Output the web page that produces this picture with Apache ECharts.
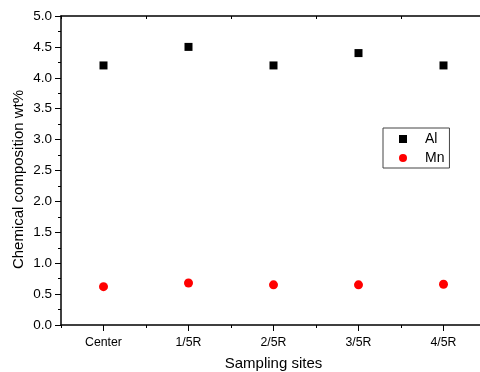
<!DOCTYPE html>
<html><head><meta charset="utf-8">
<script src="https://cdn.jsdelivr.net/npm/echarts@6/dist/echarts.min.js"></script>
<style>html,body{margin:0;padding:0;background:#fff}#c{width:480px;height:372px}</style>
</head><body><div id="c"></div>
<script>
var categories = ['Center', '1/5R', '2/5R', '3/5R', '4/5R'];
var alValues = [4.2, 4.5, 4.2, 4.4, 4.2];
var mnValues = [0.62, 0.68, 0.65, 0.65, 0.66];
var yTicks = ['0.0','0.5','1.0','1.5','2.0','2.5','3.0','3.5','4.0','4.5','5.0'];

var chart = echarts.init(document.getElementById('c'));
var font = 'Liberation Sans, Arial, sans-serif';
var axisLine = {show: true, lineStyle: {color: '#000', width: 1.5}};
chart.setOption({
  animation: false,
  grid: {left: 61, right: -6, top: 16, bottom: 47, containLabel: false, outerBoundsMode: 'none'},
  xAxis: [
    {type: 'category', data: categories, position: 'bottom', boundaryGap: true,
     axisLine: axisLine,
     axisTick: {show: true, alignWithLabel: true, length: 6, inside: false, lineStyle: {color: '#000', width: 1}},
     axisLabel: {color: '#000', fontFamily: font, fontSize: 12.3, margin: 12},
     name: 'Sampling sites', nameLocation: 'middle', nameGap: 31, nameMoveOverlap: false,
     nameTextStyle: {color: '#000', fontFamily: font, fontSize: 15},
     splitLine: {show: false}},
    {type: 'category', data: categories, position: 'bottom', boundaryGap: true,
     axisLine: {show: false},
     axisTick: {show: true, length: 3, lineStyle: {color: '#000', width: 1}},
     axisLabel: {show: false}, splitLine: {show: false}},
    {type: 'category', data: categories, position: 'top', boundaryGap: true,
     axisLine: axisLine,
     axisTick: {show: true, inside: true, length: 3, lineStyle: {color: '#000', width: 1}},
     axisLabel: {show: false}, splitLine: {show: false}}
  ],
  yAxis: {
    type: 'value', min: 0, max: 5, interval: 0.5,
    axisLine: axisLine,
    axisTick: {show: true, length: 6, lineStyle: {color: '#000', width: 1}},
    minorTick: {show: true, splitNumber: 2, length: 3, lineStyle: {color: '#000', width: 1}},
    axisLabel: {color: '#000', fontFamily: font, fontSize: 13.5, margin: 9,
      formatter: function (v) { return yTicks[Math.round(v / 0.5)]; }},
    splitLine: {show: false},
    name: 'Chemical composition wt%', nameLocation: 'middle', nameGap: 35, nameMoveOverlap: false,
    nameTextStyle: {color: '#000', fontFamily: font, fontSize: 15, padding: [0, 18, 0, 0]}
  },
  legend: {
    orient: 'vertical', left: 383, top: 128,
    padding: [4, 5, 3, 16], itemGap: 5, itemWidth: 8, itemHeight: 8,
    borderColor: '#444', borderWidth: 1,
    textStyle: {color: '#000', fontFamily: font, fontSize: 14, padding: [0, 0, 0, 13]},
    data: [{name: 'Al', icon: 'rect'}, {name: 'Mn', icon: 'circle'}]
  },
  series: [
    {name: 'Al', type: 'scatter', data: alValues, symbol: 'rect', symbolSize: 8,
     itemStyle: {color: '#000', opacity: 1}},
    {name: 'Mn', type: 'scatter', data: mnValues, symbol: 'circle', symbolSize: 9,
     itemStyle: {color: '#ff0000', opacity: 1}}
  ]
});
</script></body></html>
